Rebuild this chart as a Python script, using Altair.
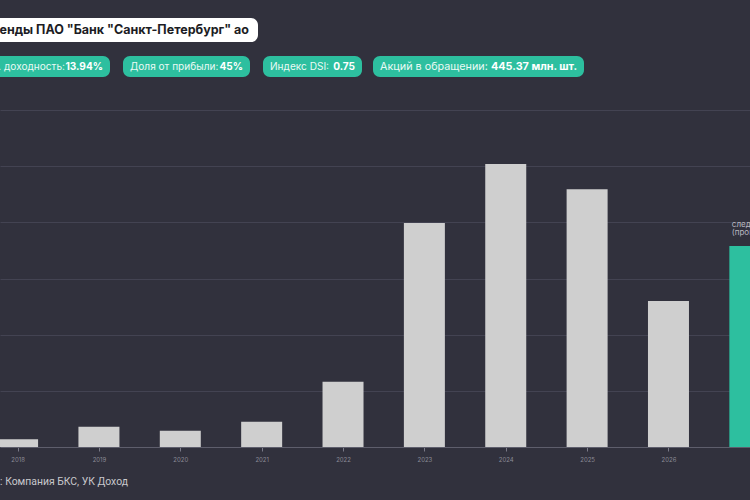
import altair as alt
import pandas as pd

# ---- data ----
years = [2018, 2019, 2020, 2021, 2022, 2023, 2024, 2025, 2026, 2027]
dividends = [1.4, 3.6, 2.9, 4.5, 11.6, 39.9, 50.4, 45.9, 26.0, 35.8]
kinds = ["факт"] * 9 + ["прогноз"]
tick_years = [2018, 2019, 2020, 2021, 2022, 2023, 2024, 2025, 2026]
forecast_note = "следующие 12 мес.\n(прогноз)"

title_text = 'Дивиденды ПАО "Банк "Санкт-Петербург" ао'
pill_labels = ["Див. доходность: ", "Доля от прибыли: ", "Индекс DSI: ", "Акций в обращении: "]
pill_values = ["13.94%", "45%", "0.75", "445.37 млн. шт."]
source_text = "Источник: Компания БКС, УК Доход"

BG = "#31313d"
GRID = "#434352"
BAR = "#cfcfcf"
TEAL = "#2dbf9f"
FONT = "Inter"

df = pd.DataFrame({"year": years, "value": dividends, "kind": kinds})
df["color"] = [BAR if k == "факт" else TEAL for k in kinds]
df["note"] = [forecast_note if k == "прогноз" else "" for k in kinds]

xscale = alt.Scale(domain=[2017.784, 2027.002], nice=False, zero=False, padding=0)
yscale = alt.Scale(domain=[0, 79.6], nice=False, padding=0)

base = alt.Chart(df)

bars = base.mark_bar(size=41, clip=True).encode(
    x=alt.X("year:Q", scale=xscale, title=None,
            axis=alt.Axis(values=tick_years, format="d", grid=False,
                          domainColor="#5e5e6c", tickColor="#7a7a88", tickSize=4,
                          labelColor="#8a8a96", labelFontSize=6, labelPadding=5,
                          labelFont=FONT)),
    y=alt.Y("value:Q", scale=yscale, title=None,
            axis=alt.Axis(values=[0, 10, 20, 30, 40, 50, 60], grid=True, gridColor=GRID,
                          gridWidth=1, labels=False, ticks=False, domain=False)),
    color=alt.Color("color:N", scale=None, legend=None),
)

note = base.transform_filter(alt.datum.kind == "прогноз").mark_text(
    align="left", baseline="bottom", dx=-18, dy=-17, fontSize=8, lineHeight=8.5,
    color="#b8b8c0", font=FONT, lineBreak="\n").encode(
    x=alt.X("year:Q", scale=xscale),
    y=alt.Y("value:Q", scale=yscale),
    text="note:N",
)

one = pd.DataFrame({"a": [0]})

def rect(x1, x2, y1, y2, color):
    return alt.Chart(one).mark_rect(color=color, cornerRadius=7).encode(
        x=alt.value(x1), x2=alt.value(x2), y=alt.value(y1), y2=alt.value(y2))

def txt(s, x, y, size, color, weight="normal", align="left", font=FONT):
    return alt.Chart(one).mark_text(text=s, align=align, baseline="middle", fontSize=size,
                                    color=color, fontWeight=weight, font=font).encode(
        x=alt.value(x), y=alt.value(y))

layers = [bars, note]

# title pill
layers.append(rect(-60, 258, 18, 42, "#ffffff"))
layers.append(txt(title_text, 249, 30, 12.5, "#1c1c24", "bold", "right"))

# info pills
pill_pos = [(-60, 110), (123, 250), (263, 362), (373, 584)]
pill_fs = [10.1, 10.1, 10.1, 10.8]
for (x1, x2), lab, val, fs in zip(pill_pos, pill_labels, pill_values, pill_fs):
    layers.append(rect(x1, x2, 56, 77, TEAL))
    layers.append(txt(val, x2 - 7, 66.5, fs, "#ffffff", "bold", "right"))
    if x1 < 0:
        layers.append(txt(lab, 65, 66.5, fs, "#eafaf5", "normal", "right"))
    else:
        layers.append(txt(lab, x1 + 7, 66.5, fs, "#eafaf5", "normal", "left"))

# source
layers.append(txt(source_text, 128, 482, 10.4, "#c8c8cc", "normal", "right", "Roboto"))

chart = alt.layer(*layers).properties(
    width=750, height=447,
    autosize=alt.AutoSizeParams(type="none"),
    padding={"left": 0, "top": 0, "right": 0, "bottom": 53},
    background=BG,
).configure_view(stroke=None)

chart.save("out.html", embed_options={"renderer": "svg", "actions": False})
